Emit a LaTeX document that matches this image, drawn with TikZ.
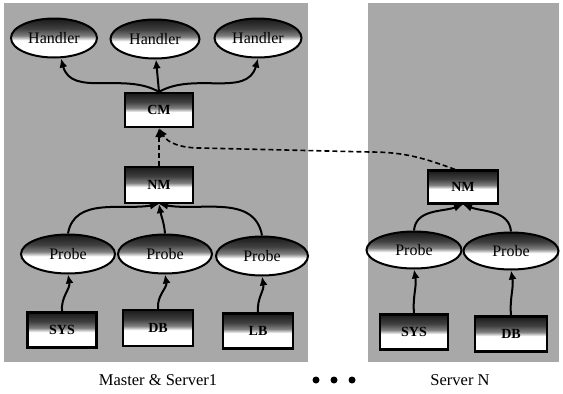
\documentclass[tikz,border=0pt]{standalone}
\usepackage{fontspec}
\setmainfont{Liberation Serif}
\usetikzlibrary{shapes.geometric,arrows.meta}
\pgfdeclareverticalshading{nodeshade}{100bp}{color(0bp)=(white); color(47bp)=(white); color(53bp)=(black!50); color(62bp)=(black!75); color(75bp)=(black!90); color(100bp)=(black!90)}
\tikzset{
  panel/.style={fill=black!34, draw=none},
  shade/.style={shading=nodeshade},
  boxnode/.style={draw, line width=2.2pt, rectangle, shade, minimum width=68pt, minimum height=34pt,
    inner sep=0pt, font=\fontsize{14}{16}\selectfont\bfseries},
  ellnode/.style={draw, line width=2pt, ellipse, shade, minimum width=90pt, minimum height=39pt,
    inner sep=0pt, font=\fontsize{16}{19}\selectfont},
  arr/.style={line width=2pt, -{Latex[length=9pt,width=8pt]}},
  darr/.style={line width=1.6pt, dash pattern=on 5pt off 3pt, -{Latex[length=9pt,width=8pt]}},
  caption/.style={font=\fontsize{16.5}{19}\selectfont},
  dot/.style={circle, fill=black, inner sep=0pt, minimum size=7pt}
}
\begin{document}
\begin{tikzpicture}[x=1pt, y=1pt]
\useasboundingbox (0,0) rectangle (563,-394);
% panels
\fill[panel] (4,-3) rectangle (308,-362);
\fill[panel] (368,-3) rectangle (559,-362);

% master nodes
\node[ellnode, minimum width=86pt] (h1) at (54,-38) {\raisebox{-6pt}{Handler}};
\node[ellnode, minimum width=89pt] (h2) at (155,-39) {\raisebox{-6pt}{Handler}};
\node[ellnode, minimum width=87pt] (h3) at (258,-38) {\raisebox{-6pt}{Handler}};
\node[boxnode] (cm) at (159,-110) {\raisebox{-5pt}{CM}};
\node[boxnode, minimum height=36pt] (nm) at (159,-185) {\raisebox{-5pt}{NM}};
\node[ellnode, minimum width=94pt] (p1) at (68,-254) {\raisebox{-6pt}{Probe}};
\node[ellnode, minimum width=94pt] (p2) at (165,-254) {\raisebox{-6pt}{Probe}};
\node[ellnode, minimum width=92pt] (p3) at (262,-256) {\raisebox{-6pt}{Probe}};
\node[boxnode, minimum width=69pt, minimum height=35pt] (sys) at (62,-330) {\raisebox{-5pt}{SYS}};
\node[boxnode, minimum width=70pt, minimum height=36pt] (db) at (158,-328) {\raisebox{-5pt}{DB}};
\node[boxnode, minimum width=70pt, minimum height=35pt] (lb) at (258,-331) {\raisebox{-5pt}{LB}};

% server N nodes
\node[boxnode, minimum width=70pt, minimum height=33pt] (nmr) at (463,-187) {\raisebox{-4pt}{NM}};
\node[ellnode, minimum width=95pt, minimum height=37pt] (pr1) at (414,-250) {\raisebox{-6pt}{Probe}};
\node[ellnode, minimum width=95pt, minimum height=37pt] (pr2) at (511,-251) {\raisebox{-6pt}{Probe}};
\node[boxnode, minimum width=68pt, minimum height=35pt] (sysr) at (414,-332) {\raisebox{-5pt}{SYS}};
\node[boxnode, minimum width=72pt, minimum height=35pt] (dbr) at (511,-334) {\raisebox{-5pt}{DB}};

% captions
\node[caption] (cap1) at (158,-380) {Master \& Server1};
\node[dot] (d1) at (316,-380) {};
\node[dot] (d2) at (334,-380) {};
\node[dot] (d3) at (352,-380) {};
\node[caption] (cap2) at (460,-380) {Server N};

% CM -> handlers
\draw[arr] (cm.north) to[out=150, in=-75] ([xshift=7pt]h1.south);
\draw[arr] (cm.north) -- ([xshift=1pt]h2.south);
\draw[arr] (cm.north) to[out=30, in=-105] (h3.south);

% probes -> NM
\draw[arr] (p1.north) to[out=80, in=190] (nm.south);
\draw[arr] (p2.north) to[out=95, in=-80] (nm.south);
\draw[arr] (p3.north) to[out=100, in=-10] (nm.south);

% sources -> probes
\draw[arr] (sys.north) to[out=95, in=-80] (p1.south);
\draw[arr] (db.north) to[out=95, in=-80] (p2.south);
\draw[arr] (lb.north) to[out=95, in=-80] (p3.south);

% server N
\draw[arr] (pr1.north) to[out=85, in=200] (nmr.south);
\draw[arr] (pr2.north) to[out=95, in=-20] (nmr.south);
\draw[arr] (sysr.north) to[out=95, in=-80] (pr1.south);
\draw[arr] (dbr.north) to[out=95, in=-80] (pr2.south);

% NM -> CM dashed
\draw[darr] (nm.north) -- (cm.south);
\draw[darr] ([xshift=-8pt]nmr.north) to[out=160, in=0] (370,-152) -- (200,-148) to[out=180, in=-60] (cm.south);
\end{tikzpicture}
\end{document}
